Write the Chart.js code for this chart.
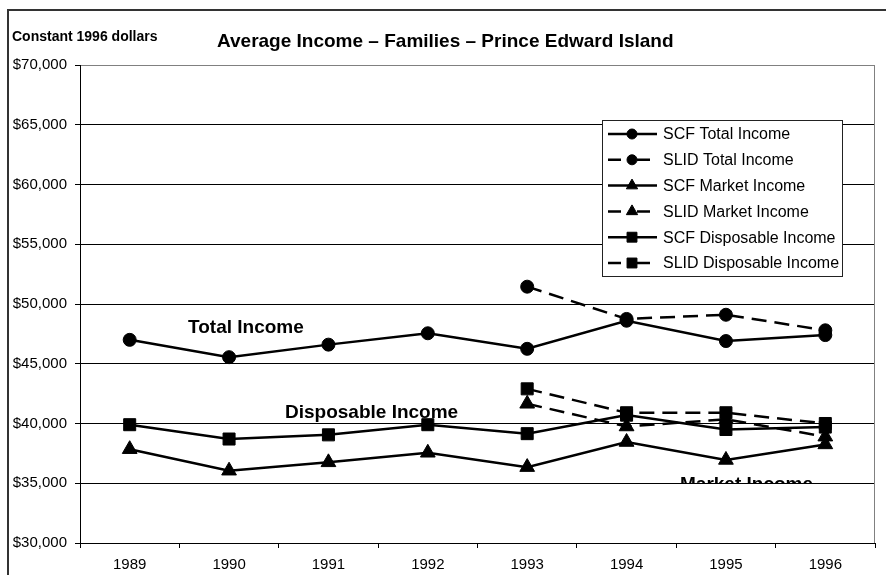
<!DOCTYPE html>
<html>
<head>
<meta charset="utf-8">
<script src="https://cdn.jsdelivr.net/npm/chart.js@4"></script>
<style>
  html, body { margin: 0; padding: 0; background: #fff; }
  canvas { display: block; }
</style>
</head>
<body>
<canvas id="incomeChart" width="886" height="575"></canvas>
<script>
// data
const years = ["1989", "1990", "1991", "1992", "1993", "1994", "1995", "1996"];
const scfTotal = [47000, 45550, 46600, 47550, 46250, 48600, 46900, 47400];
const slidTotal = [null, null, null, null, 51450, 48750, 49100, 47800];
const scfMarket = [37850, 36050, 36750, 37550, 36350, 38450, 36950, 38250];
const slidMarket = [null, null, null, null, 41650, 39750, 40350, 38900];
const scfDisposable = [39900, 38700, 39050, 39900, 39150, 40700, 39500, 39700];
const slidDisposable = [null, null, null, null, 42900, 40900, 40900, 40000];
const yMin = 30000;
const yMax = 70000;
const yStep = 5000;

const black = "#000";
const dash = [15, 8];

function series(label, data, style, dashed) {
  const radius = style === "circle" ? 6.5 : style === "rect" ? 8.5 : 8.5;
  return {
    label: label,
    data: data,
    borderColor: black,
    backgroundColor: black,
    borderWidth: 2.5,
    borderDash: dashed ? dash : [],
    pointStyle: style,
    pointRadius: radius,
    pointBorderWidth: 1,
    pointBackgroundColor: black,
    pointBorderColor: black,
    tension: 0,
    spanGaps: false,
  };
}

// text labels, frame and the boxed legend
const decorations = {
  id: "decorations",
  beforeDatasetsDraw(chart) {
    const ctx = chart.ctx;
    const area = chart.chartArea;
    ctx.save();
    ctx.fillStyle = black;
    ctx.textAlign = "left";
    ctx.textBaseline = "alphabetic";
    ctx.font = "bold 19px 'Liberation Sans', Arial, sans-serif";
    ctx.fillText("Total Income", 188, 333);
    ctx.fillText("Disposable Income", 285, 418);
    // Market Income label is cut off at the $35,000 line in the original
    const cut = chart.scales.y.getPixelForValue(35000);
    ctx.save();
    ctx.beginPath();
    ctx.rect(area.left, area.top, area.right - area.left, cut - area.top);
    ctx.clip();
    ctx.fillText("Market Income", 680, 490);
    ctx.restore();

    // plot border on the right in grey
    ctx.strokeStyle = "#808080";
    ctx.lineWidth = 1;
    ctx.beginPath();
    ctx.moveTo(area.right - 0.5, area.top);
    ctx.lineTo(area.right - 0.5, area.bottom);
    ctx.stroke();
    ctx.restore();
  },
  afterDraw(chart) {
    const ctx = chart.ctx;
    ctx.save();
    // outer frame
    ctx.strokeStyle = "#333";
    ctx.lineWidth = 2;
    ctx.beginPath();
    ctx.moveTo(8, 575);
    ctx.lineTo(8, 10);
    ctx.lineTo(886, 10);
    ctx.stroke();

    // headings
    ctx.fillStyle = black;
    ctx.textAlign = "left";
    ctx.font = "bold 14px 'Liberation Sans', Arial, sans-serif";
    ctx.fillText("Constant 1996 dollars", 12, 41);
    ctx.font = "bold 19px 'Liberation Sans', Arial, sans-serif";
    ctx.fillText("Average Income \u2013 Families \u2013 Prince Edward Island", 217, 47);

    // legend box
    const bx = 602, by = 120, bw = 240, bh = 156;
    ctx.fillStyle = "#fff";
    ctx.fillRect(bx, by, bw, bh);
    ctx.strokeStyle = "#222";
    ctx.lineWidth = 1;
    ctx.strokeRect(bx + 0.5, by + 0.5, bw, bh);

    ctx.font = "16px 'Liberation Sans', Arial, sans-serif";
    ctx.textBaseline = "middle";
    chart.data.datasets.forEach((ds, i) => {
      const y = by + 14 + i * 25.8;
      ctx.strokeStyle = black;
      ctx.lineWidth = 2.5;
      ctx.beginPath();
      if (ds.borderDash.length) {
        ctx.moveTo(608, y); ctx.lineTo(621, y);
        ctx.moveTo(637, y); ctx.lineTo(650, y);
      } else {
        ctx.moveTo(608, y); ctx.lineTo(657, y);
      }
      ctx.stroke();
      ctx.fillStyle = black;
      ctx.lineWidth = 1;
      const r = ds.pointStyle === "circle" ? 5 : ds.pointStyle === "rect" ? 7 : 6.5;
      Chart.helpers.drawPoint(ctx, { pointStyle: ds.pointStyle, radius: r, rotation: 0, borderWidth: 1 }, 632, y);
      ctx.fillStyle = black;
      ctx.fillText(ds.label, 663, y + 1);
    });
    ctx.restore();
  },
};

new Chart(document.getElementById("incomeChart"), {
  type: "line",
  data: {
    labels: years,
    datasets: [
      series("SCF Total Income", scfTotal, "circle", false),
      series("SLID Total Income", slidTotal, "circle", true),
      series("SCF Market Income", scfMarket, "triangle", false),
      series("SLID Market Income", slidMarket, "triangle", true),
      series("SCF Disposable Income", scfDisposable, "rect", false),
      series("SLID Disposable Income", slidDisposable, "rect", true),
    ],
  },
  options: {
    responsive: false,
    animation: false,
    devicePixelRatio: 1,
    layout: { padding: { left: 0, top: 65, right: 11, bottom: 0 } },
    plugins: {
      legend: { display: false },
      title: { display: false },
      tooltip: { enabled: false },
    },
    scales: {
      x: {
        type: "category",
        offset: true,
        afterFit: (scale) => { scale.height = 32; },
        border: { color: black, width: 1 },
        grid: {
          offset: true,
          drawOnChartArea: false,
          drawTicks: true,
          tickLength: 5,
          color: black,
        },
        ticks: {
          color: black,
          padding: 8,
          maxRotation: 0,
          font: { family: "'Liberation Sans', Arial, sans-serif", size: 15 },
        },
      },
      y: {
        min: yMin,
        max: yMax,
        afterFit: (scale) => { scale.width = 80; },
        border: { color: black, width: 1 },
        grid: {
          color: (c) => (c.tick && c.tick.value === yMax ? "#808080" : black),
          lineWidth: 1,
          drawTicks: true,
          tickLength: 5,
          tickColor: black,
        },
        ticks: {
          stepSize: yStep,
          color: black,
          padding: 8,
          font: { family: "'Liberation Sans', Arial, sans-serif", size: 15 },
          callback: (v) => "$" + Number(v).toLocaleString("en-US"),
        },
      },
    },
  },
  plugins: [decorations],
});
</script>
</body>
</html>
